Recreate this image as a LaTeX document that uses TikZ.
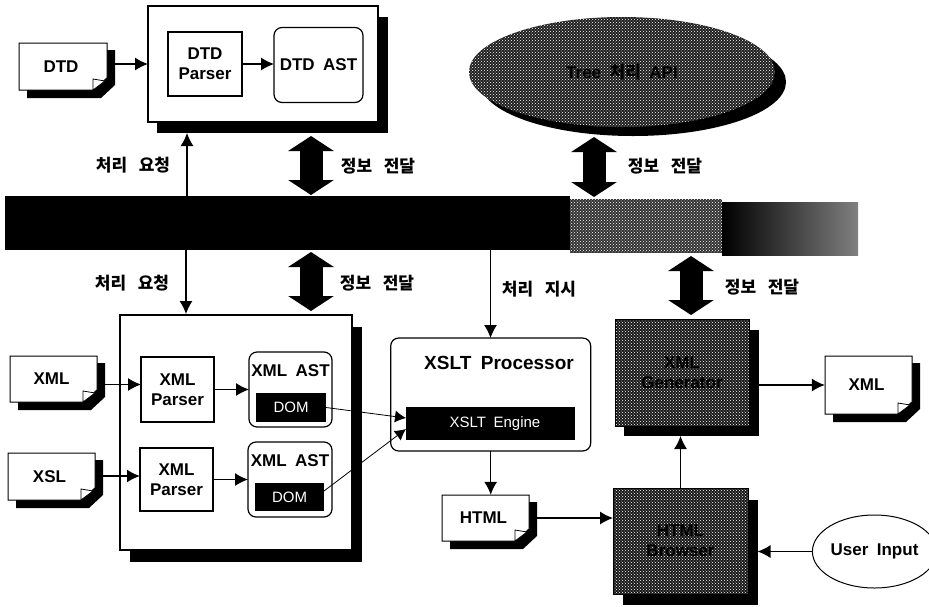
\documentclass[tikz,border=0pt]{standalone}
\usepackage{fontspec}
\setmainfont[WordSpace=1.8]{Liberation Sans}
\newfontfamily\kor[WordSpace=3]{Noto Sans CJK KR}
\usetikzlibrary{arrows.meta,shapes.geometric,patterns}
\newcommand{\docbox}[6]{%
\begin{scope}[shift={(#2,#3)}]
\fill ({-#4/2+8},{-#5/2+7})--({#4/2+8},{-#5/2+7})--({#4/2+8},{#5/2-5})--({#4/2-6},{#5/2+8})--({-#4/2+8},{#5/2+8})--cycle;
\draw[line width=1pt,fill=white] ({-#4/2},{-#5/2})--({#4/2},{-#5/2})--({#4/2},{#5/2-12})--({#4/2-14},{#5/2})--({-#4/2},{#5/2})--cycle;
\draw[line width=.8pt,fill=white] ({#4/2-14},{#5/2})--({#4/2-14},{#5/2-11})--({#4/2-2},{#5/2-9})--cycle;
\node[txt,inner sep=0pt,minimum width=#4pt,minimum height=#5pt] (#1) at (0,0) {\kern-4pt #6};
\coordinate (#1o) at ({#4/2+8},0);
\end{scope}}
\begin{document}
\begin{tikzpicture}[x=1pt,y=-1pt,
  txt/.style={font=\fontsize{17}{20}\selectfont\bfseries},
  kolabel/.style={font=\fontsize{17}{20}\selectfont\kor\bfseries},
  whitebox/.style={draw,fill=white,line width=1.2pt,inner sep=0pt,outer sep=0pt,txt,align=center},
  roundbox/.style={whitebox,rounded corners=8pt},
  shadowbox/.style={fill=black,inner sep=0pt,outer sep=0pt},
  darkbox/.style={fill=black,inner sep=0pt,outer sep=0pt,text=white,font=\fontsize{15}{18}\selectfont},
  halftone/.style={preaction={fill=black!#1},pattern=crosshatch dots,pattern color=white},
  graybox/.style={draw,halftone=90,line width=.8pt,inner sep=0pt,outer sep=0pt,txt,align=center,text=black},
  conn/.style={line width=1.2pt,-{Latex[length=13pt,width=13pt]}},
  thinconn/.style={line width=.8pt,-{Latex[length=11pt,width=12pt]}},
  blockarrow/.style={line width=23pt,{Triangle[length=15pt,width=45pt]}-{Triangle[length=15pt,width=45pt]}}]
\useasboundingbox (0,0) rectangle (929,606);
\node[shadowbox,minimum width=231pt,minimum height=116pt] (dtdshadow) at (272.5,75) {};
\node[whitebox,minimum width=230pt,minimum height=116pt] (dtdbox) at (263,64) {};
\node[whitebox,minimum width=74pt,minimum height=64pt] (dtdparser) at (205,64) {DTD\\Parser};
\node[roundbox,minimum width=89pt,minimum height=75pt] (dtdast) at (318.5,65) {DTD AST};
\docbox{dtd}{63}{66.5}{88}{47}{DTD}
\node[shadowbox,ellipse,minimum width=306pt,minimum height=108pt] (treeshadow) at (633,82) {};
\node[ellipse,halftone=88,inner sep=0pt,outer sep=0pt,minimum width=306pt,minimum height=110pt,txt,text=black] (tree) at (622,72) {Tree {\kor 처리} API};
\node[fill=black,inner sep=0pt,outer sep=0pt,minimum width=565pt,minimum height=54pt] (barleft) at (287.5,223) {};
\node[halftone=80,inner sep=0pt,outer sep=0pt,minimum width=152pt,minimum height=54pt] (barmid) at (646,226) {};
\node[left color=black,middle color=black!90,right color=black!50,inner sep=0pt,outer sep=0pt,minimum width=136pt,minimum height=53pt] (barright) at (790,228.5) {};
\node[shadowbox,minimum width=232pt,minimum height=235pt] (xmlshadow) at (246,444.5) {};
\node[whitebox,minimum width=232pt,minimum height=235pt] (xmlbox) at (236,432.5) {};
\docbox{xmldoc}{53.5}{379}{87}{46}{XML}
\docbox{xsldoc}{51.5}{476.5}{87}{47}{XSL}
\node[whitebox,minimum width=73pt,minimum height=65pt] (xmlparserA) at (177.5,389.5) {XML\\Parser};
\node[whitebox,minimum width=73pt,minimum height=63pt] (xmlparserB) at (176.5,479.5) {XML\\Parser};
\node[roundbox,minimum width=83pt,minimum height=75pt] (astA) at (290.5,389.5) {};
\node[roundbox,minimum width=84pt,minimum height=75pt] (astB) at (290,479.5) {};
\node[txt,inner sep=0pt] (astlabelA) at (290.5,371) {XML AST};
\node[txt,inner sep=0pt] (astlabelB) at (290,461) {XML AST};
\node[darkbox,minimum width=70pt,minimum height=29pt] (domA) at (291,407.5) {DOM};
\node[darkbox,minimum width=69pt,minimum height=28pt] (domB) at (289.5,497) {DOM};
\node[roundbox,minimum width=200pt,minimum height=113pt] (xslt) at (490.7,394.5) {};
\node[inner sep=0pt,font=\fontsize{19}{22}\selectfont\bfseries] (xsltlabel) at (499,363) {XSLT Processor};
\node[darkbox,minimum width=169pt,minimum height=33pt] (engine) at (490.5,423.5) {\kern9pt XSLT Engine};
\docbox{htmldoc}{485.5}{518}{87}{46}{HTML}
\node[shadowbox,minimum width=135pt,minimum height=106pt] (genshadow) at (691.5,383) {};
\node[graybox,minimum width=134pt,minimum height=107pt] (generator) at (682,372.5) {XML\\Generator};
\node[shadowbox,minimum width=135pt,minimum height=105pt] (browsershadow) at (690,552.5) {};
\node[graybox,minimum width=135pt,minimum height=106pt] (browser) at (680.5,541) {HTML\\Browser};
\docbox{xmlout}{868.5}{385}{87}{58}{XML}
\node[draw,ellipse,line width=1pt,inner sep=0pt,outer sep=0pt,minimum width=103pt,minimum height=73pt,txt] (user) at (874.5,551.5) {User Input};
\coordinate (a1) at (187,133);
\coordinate (a2) at (186,314);
\coordinate (a3) at (490.5,338);
\coordinate (a4) at ([yshift=5pt]xmlparserA.west);
\coordinate (a5) at ([yshift=3.5pt]xmlparserB.west);
\coordinate (a6) at ([yshift=5.5pt]engine.west);
\coordinate (a7) at ([yshift=-5.5pt]engine.west);
\coordinate (a8) at ([yshift=6pt]domB.east);
\coordinate (b1) at (311,136);
\coordinate (b2) at (311,195);
\coordinate (b3) at (311,252);
\coordinate (b4) at (311,311);
\coordinate (b5) at (594,137);
\coordinate (b6) at (594,197);
\coordinate (b7) at (691,256);
\coordinate (b8) at (691,315);
\draw[conn] (dtdo |- dtdbox.west)--(dtdbox.west);
\draw[conn] (dtdparser.east)--(dtdparser.east -| dtdast.west);
\draw[conn] (barleft.north -| a1)--(a1);
\draw[conn] (barleft.south -| a2)--(a2);
\draw[conn] (barleft.south -| a3)--(a3);
\draw[conn] (xmldoco |- a4)--(a4);
\draw[conn,line width=1.7pt] (xsldoco |- a5)--(a5);
\draw[conn] (xmlparserA.east |- astA.center)--(astA.west);
\draw[conn] (xmlparserB.east)--(astB.west);
\draw[thinconn] (domA.east)--(a6);
\draw[thinconn] (a8)--(a7);
\draw[conn] (xslt.south)--(xslt.south |- htmldoc.north);
\draw[conn] (htmldoco)--(htmldoco -| browser.west);
\draw[conn] (browser.north)--(browser.north |- genshadow.south);
\draw[conn] (genshadow.east |- xmlout.center)--(xmlout.west |- xmlout.center);
\draw[conn] (user.west)--(user.west -| browsershadow.east);
\draw[blockarrow] (b1)--(b2);
\draw[blockarrow] (b3)--(b4);
\draw[blockarrow] (b5)--(b6);
\draw[blockarrow] (b7)--(b8);
\node[kolabel,inner sep=0pt] (reqA) at (133,165) {처리 요청};
\node[kolabel,inner sep=0pt] (reqB) at (132,283) {처리 요청};
\node[kolabel,inner sep=0pt] (infoA) at (378,166) {정보 전달};
\node[kolabel,inner sep=0pt] (infoB) at (377,283) {정보 전달};
\node[kolabel,inner sep=0pt] (infoC) at (665,166) {정보 전달};
\node[kolabel,inner sep=0pt] (infoD) at (762,287) {정보 전달};
\node[kolabel,inner sep=0pt] (cmd) at (539,289) {처리 지시};
\end{tikzpicture}
\end{document}
